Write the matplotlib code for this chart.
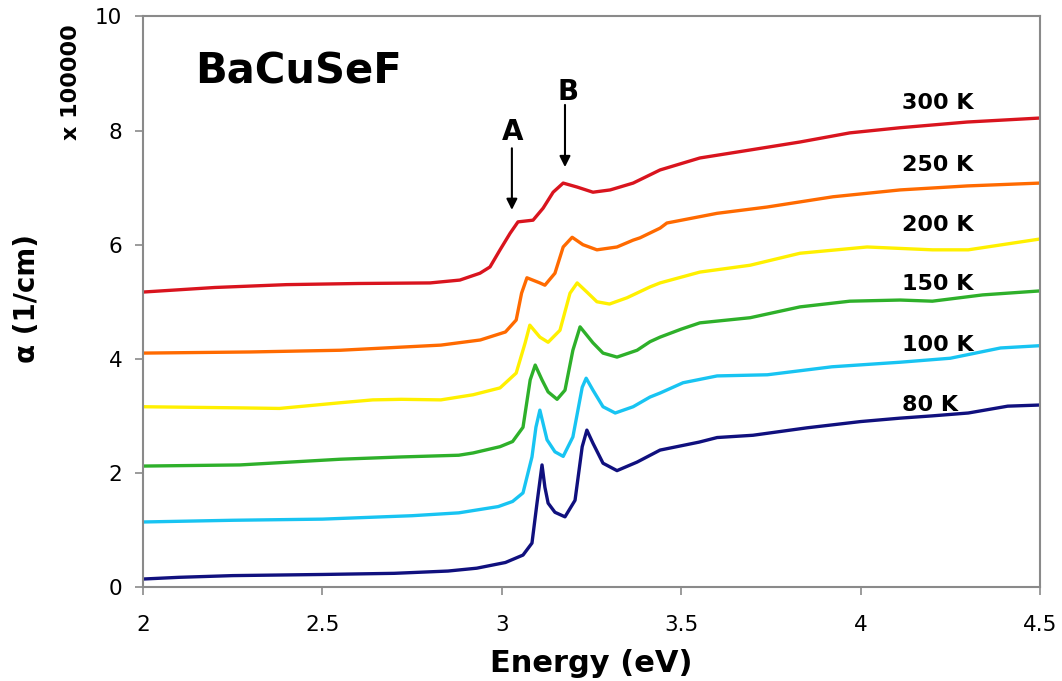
import matplotlib
matplotlib.use("Agg")
import matplotlib.pyplot as plt

# absorption spectra of BaCuSeF, offset by temperature (x 100000 1/cm)
e_80 = [2.0, 2.1, 2.25, 2.5, 2.7, 2.85, 2.93, 3.01, 3.059, 3.084, 3.098, 3.112, 3.12, 3.129, 3.148,
        3.176, 3.204, 3.224, 3.237, 3.254, 3.282, 3.321, 3.377, 3.441, 3.55, 3.6, 3.7, 3.85, 4.0,
        4.11, 4.2, 4.3, 4.41, 4.5]
a_80 = [0.14, 0.17, 0.20, 0.22, 0.24, 0.28, 0.33, 0.43, 0.56, 0.77, 1.47, 2.14, 1.75, 1.47, 1.31,
        1.23, 1.52, 2.46, 2.75, 2.52, 2.17, 2.04, 2.19, 2.40, 2.54, 2.62, 2.66, 2.79, 2.90,
        2.96, 3.00, 3.05, 3.17, 3.19]

e_100 = [2.0, 2.25, 2.5, 2.75, 2.88, 2.99, 3.03, 3.059, 3.084, 3.095, 3.106, 3.126, 3.148, 3.171,
         3.198, 3.224, 3.235, 3.254, 3.282, 3.316, 3.366, 3.413, 3.441, 3.505, 3.6, 3.74, 3.92,
         4.11, 4.25, 4.39, 4.5]
a_100 = [1.14, 1.17, 1.19, 1.25, 1.30, 1.41, 1.50, 1.65, 2.28, 2.80, 3.10, 2.58, 2.37, 2.29,
         2.63, 3.50, 3.66, 3.45, 3.16, 3.05, 3.16, 3.33, 3.40, 3.58, 3.70, 3.72, 3.86,
         3.94, 4.01, 4.19, 4.23]

e_150 = [2.0, 2.27, 2.55, 2.72, 2.88, 2.92, 2.995, 3.03, 3.059, 3.079, 3.093, 3.112, 3.129, 3.154,
         3.176, 3.198, 3.218, 3.254, 3.282, 3.321, 3.377, 3.413, 3.441, 3.5, 3.552, 3.692, 3.831,
         3.97, 4.11, 4.2, 4.34, 4.5]
a_150 = [2.12, 2.14, 2.24, 2.28, 2.31, 2.35, 2.46, 2.55, 2.80, 3.63, 3.89, 3.63, 3.42, 3.29,
         3.45, 4.15, 4.56, 4.28, 4.10, 4.03, 4.15, 4.30, 4.38, 4.52, 4.63, 4.72, 4.91,
         5.01, 5.03, 5.01, 5.12, 5.19]

e_200 = [2.0, 2.27, 2.38, 2.55, 2.64, 2.72, 2.83, 2.92, 2.995, 3.04, 3.065, 3.078, 3.106, 3.129,
         3.162, 3.19, 3.21, 3.237, 3.265, 3.3, 3.349, 3.413, 3.441, 3.552, 3.692, 3.831, 4.018,
         4.2, 4.3, 4.5]
a_200 = [3.16, 3.14, 3.13, 3.23, 3.28, 3.29, 3.28, 3.37, 3.49, 3.75, 4.28, 4.59, 4.38, 4.29,
         4.50, 5.15, 5.33, 5.17, 5.00, 4.96, 5.07, 5.26, 5.33, 5.52, 5.64, 5.85, 5.96,
         5.91, 5.91, 6.10]

e_250 = [2.0, 2.3, 2.55, 2.83, 2.94, 3.01, 3.04, 3.055, 3.07, 3.106, 3.12, 3.148, 3.171, 3.196,
         3.226, 3.265, 3.321, 3.366, 3.385, 3.441, 3.46, 3.6, 3.739, 3.923, 4.11, 4.297, 4.5]
a_250 = [4.10, 4.12, 4.15, 4.24, 4.33, 4.47, 4.68, 5.15, 5.42, 5.33, 5.29, 5.50, 5.96, 6.13,
         6.00, 5.91, 5.96, 6.08, 6.12, 6.29, 6.38, 6.55, 6.66, 6.84, 6.96, 7.03, 7.08]

e_300 = [2.0, 2.2, 2.4, 2.6, 2.8, 2.883, 2.939, 2.967, 2.995, 3.023, 3.045, 3.087, 3.115, 3.143,
         3.171, 3.21, 3.254, 3.302, 3.366, 3.441, 3.552, 3.692, 3.831, 3.97, 4.11, 4.297, 4.5]
a_300 = [5.17, 5.25, 5.30, 5.32, 5.33, 5.38, 5.50, 5.61, 5.91, 6.20, 6.40, 6.43, 6.64, 6.92,
         7.08, 7.01, 6.92, 6.96, 7.08, 7.31, 7.52, 7.66, 7.80, 7.96, 8.05, 8.15, 8.22]

labels = ['80 K', '100 K', '150 K', '200 K', '250 K', '300 K']
colors = ['#10107E', '#18C4F2', '#2EB02A', '#FFF000', '#FF6A00', '#D9141E']
label_y = [3.085, 4.14, 5.21, 6.24, 7.29, 8.38]

fig = plt.figure(figsize=(10.62, 6.81), dpi=100)
ax = fig.add_axes([0.1347, 0.138, 0.8446, 0.8378])

series = [(e_80, a_80), (e_100, a_100), (e_150, a_150),
          (e_200, a_200), (e_250, a_250), (e_300, a_300)]
for (e, a), c in zip(series, colors):
    ax.plot(e, a, color=c, lw=2.4, solid_joinstyle='round')

for lab, yy in zip(labels, label_y):
    ax.text(4.115, yy, lab, fontsize=16, fontweight='bold', ha='left', va='baseline')

ax.text(2.145, 8.83, 'BaCuSeF', fontsize=30, fontweight='bold', ha='left', va='baseline')

# peak markers
ax.text(3.031, 7.84, 'A', fontsize=20, fontweight='bold', ha='center', va='baseline')
ax.text(3.185, 8.54, 'B', fontsize=20, fontweight='bold', ha='center', va='baseline')
arrow = dict(arrowstyle='-|>', color='black', lw=1.5, mutation_scale=16, shrinkA=0, shrinkB=0)
ax.annotate('', xy=(3.028, 6.61), xytext=(3.028, 7.69), arrowprops=arrow)
ax.annotate('', xy=(3.176, 7.36), xytext=(3.176, 8.45), arrowprops=arrow)

ax.set_xlim(2, 4.5)
ax.set_ylim(0, 10)
ax.set_xticks([2, 2.5, 3, 3.5, 4, 4.5])
ax.set_xticklabels(['2', '2.5', '3', '3.5', '4', '4.5'])
ax.set_yticks([0, 2, 4, 6, 8, 10])
for s in ax.spines.values():
    s.set_color('#8a8a8a')
    s.set_linewidth(1.5)
ax.tick_params(axis='both', direction='out', color='#8a8a8a', width=1.2, length=6, labelsize=15.5)
ax.tick_params(axis='x', pad=14)
ax.tick_params(axis='y', pad=9)

fig.text(0.557, 0.0132, 'Energy (eV)', fontsize=22, fontweight='bold', ha='center', va='baseline')
fig.text(0.0254, 0.561, 'α (1/cm)', fontsize=20, fontweight='bold', rotation=90,
         ha='center', va='center')
fig.text(0.0669, 0.8796, 'x 100000', fontsize=16, fontweight='bold', rotation=90,
         ha='center', va='center')

fig.savefig('out.png', dpi=100)
